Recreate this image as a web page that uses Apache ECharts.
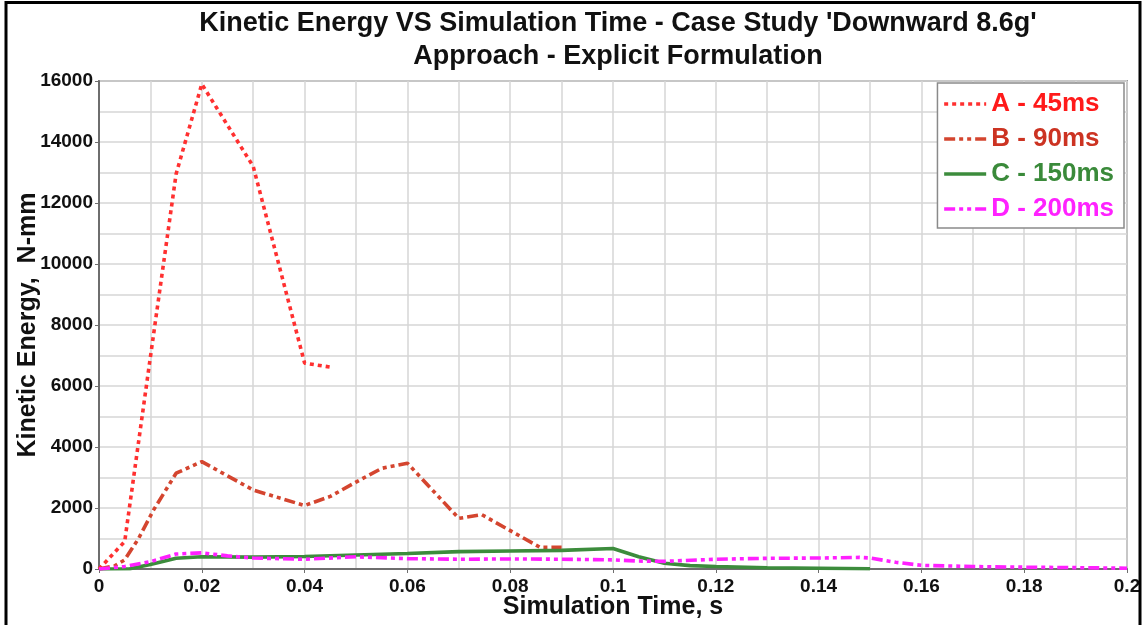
<!DOCTYPE html>
<html>
<head>
<meta charset="utf-8">
<script src="https://cdn.jsdelivr.net/npm/echarts@6/dist/echarts.min.js"></script>
<style>
  html, body { margin: 0; padding: 0; background: #fff; }
  #chart { width: 1145px; height: 625px; }
</style>
</head>
<body>
<div id="chart"></div>
<script>
// Kinetic energy (N-mm) against simulation time (s) for four load cases
const seriesNames = ['A - 45ms', 'B - 90ms', 'C - 150ms', 'D - 200ms'];

const timeA   = [0, 0.005, 0.01, 0.015, 0.02, 0.03, 0.04, 0.045];
const energyA = [0, 900, 6950, 12950, 15900, 13200, 6750, 6620];

const timeB   = [0, 0.003, 0.005, 0.0077, 0.0106, 0.015, 0.02, 0.03, 0.04, 0.045, 0.05, 0.055, 0.06, 0.07, 0.0745, 0.0858, 0.09];
const energyB = [0, 100, 300, 1000, 1930, 3140, 3520, 2590, 2080, 2380, 2850, 3300, 3470, 1660, 1780, 710, 710];

const timeC   = [0, 0.006, 0.01, 0.015, 0.02, 0.03, 0.04, 0.05, 0.06, 0.07, 0.08, 0.09, 0.1, 0.105, 0.11, 0.115, 0.12, 0.13, 0.15];
const energyC = [0, 10, 150, 350, 400, 390, 410, 460, 510, 570, 590, 610, 670, 400, 190, 110, 80, 40, 10];

const timeD   = [0, 0.005, 0.01, 0.015, 0.02, 0.025, 0.03, 0.04, 0.05, 0.06, 0.07, 0.08, 0.09, 0.1, 0.105, 0.11, 0.12, 0.13, 0.14, 0.148, 0.15, 0.155, 0.16, 0.17, 0.18, 0.19, 0.2];
const energyD = [0, 80, 240, 490, 530, 430, 360, 320, 400, 340, 320, 330, 320, 300, 260, 250, 320, 350, 360, 380, 360, 220, 120, 80, 60, 45, 25];

const lineColors = ['#ff3030', '#d4452f', '#3c8c3c', '#ff20ff'];
const textColors = ['#ff1a1a', '#cc3322', '#3a8a3a', '#ff22ff'];
const dashes = [[4, 4], [11, 4, 4, 4, 4, 4], 'solid', [11, 4, 4, 4, 4, 4]];

const zip = (t, v) => t.map((x, i) => [x, v[i]]);
const seriesData = [zip(timeA, energyA), zip(timeB, energyB), zip(timeC, energyC), zip(timeD, energyD)];

const chart = echarts.init(document.getElementById('chart'), null, { renderer: 'canvas' });

const font = 'Liberation Sans, Arial, sans-serif';
const gridColor = '#d6d6d6';
const axisColor = '#6e6e6e';

chart.setOption({
  animation: false,
  backgroundColor: '#ffffff',
  title: {
    text: "Kinetic Energy VS Simulation Time - Case Study 'Downward 8.6g'\nApproach - Explicit Formulation",
    left: 613,
    top: 2,
    textAlign: 'center',
    textStyle: {
      fontFamily: font,
      fontSize: 27,
      fontWeight: 'bold',
      color: '#111',
      lineHeight: 33
    }
  },
  legend: {
    orient: 'vertical',
    right: 21,
    top: 83,
    padding: [8, 10, 6, 5],
    itemWidth: 42,
    itemHeight: 14,
    itemGap: 9,
    backgroundColor: '#ffffff',
    borderColor: '#8a8a8a',
    borderWidth: 1.5,
    itemStyle: { color: 'rgba(0,0,0,0)', borderColor: 'rgba(0,0,0,0)', borderWidth: 0 },
    lineStyle: { width: 3.4 },
    textStyle: {
      fontFamily: font,
      fontSize: 26,
      fontWeight: 'bold',
      lineHeight: 26
    },
    data: seriesNames.map((n, i) => ({ name: n, textStyle: { color: textColors[i] } }))
  },
  grid: {
    left: 99, right: 18, top: 81, bottom: 56,
    outerBoundsMode: 'none',
    show: true,
    borderColor: '#9a9a9a',
    borderWidth: 2
  },
  xAxis: {
    type: 'value',
    min: 0, max: 0.2, interval: 0.02,
    name: 'Simulation Time, s',
    nameLocation: 'middle',
    nameGap: 26,
    nameMoveOverlap: false,
    nameTextStyle: { fontFamily: font, fontSize: 25, fontWeight: 'bold', color: '#111' },
    axisLine: { show: true, onZero: false, lineStyle: { color: axisColor, width: 2 } },
    axisTick: { show: true, length: 4, lineStyle: { color: axisColor } },
    axisLabel: {
      margin: 8,
      fontFamily: font, fontSize: 19, fontWeight: 'bold', color: '#111',
      formatter: v => String(parseFloat(v.toFixed(3)))
    },
    splitLine: { show: true, lineStyle: { color: gridColor, width: 1.5 } },
    minorTick: { show: false, splitNumber: 2 },
    minorSplitLine: { show: true, lineStyle: { color: gridColor, width: 1.5 } }
  },
  yAxis: {
    type: 'value',
    min: 0, max: 16000, interval: 2000,
    name: 'Kinetic Energy,  N-mm',
    nameLocation: 'middle',
    nameGap: 58,
    nameMoveOverlap: false,
    nameTextStyle: { fontFamily: font, fontSize: 25, fontWeight: 'bold', color: '#111' },
    axisLine: { show: true, lineStyle: { color: axisColor, width: 2 } },
    axisTick: { show: true, length: 4, lineStyle: { color: axisColor } },
    axisLabel: {
      margin: 6,
      fontFamily: font, fontSize: 19, fontWeight: 'bold', color: '#111',
      formatter: v => String(v)
    },
    splitLine: { show: true, lineStyle: { color: gridColor, width: 1.5 } },
    minorTick: { show: false, splitNumber: 2 },
    minorSplitLine: { show: true, lineStyle: { color: gridColor, width: 1.5 } }
  },
  graphic: [{
    type: 'rect',
    shape: { x: 6, y: 2.5, width: 1134, height: 640 },
    style: { fill: null, stroke: '#000', lineWidth: 3 },
    silent: true,
    z: 100
  }],
  series: seriesNames.map((n, i) => ({
    name: n,
    type: 'line',
    data: seriesData[i],
    symbol: 'none',
    showSymbol: false,
    color: lineColors[i],
    lineStyle: { color: lineColors[i], width: 3.6, type: dashes[i], cap: 'butt' },
    z: 2 + i
  }))
});
</script>
</body>
</html>
